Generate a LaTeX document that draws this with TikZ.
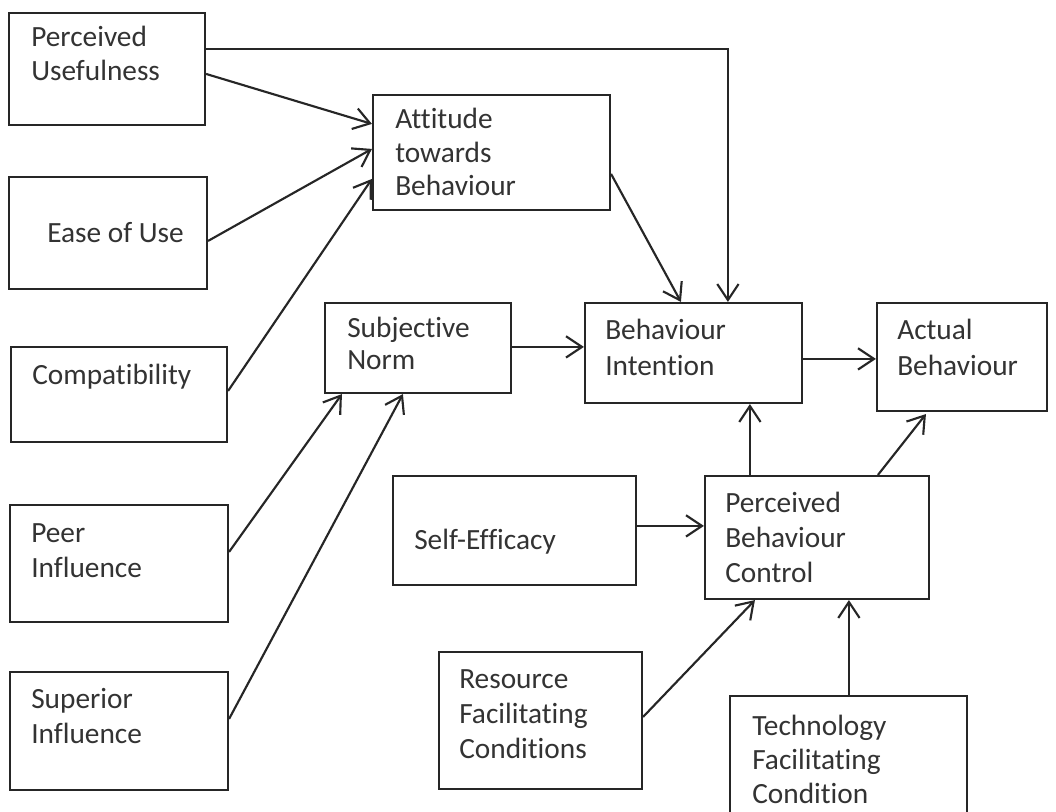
\documentclass[tikz,border=0pt]{standalone}
\usepackage{fontspec}
\setmainfont{Carlito}[RawFeature={-liga,-clig,-calt,-dlig}]
\usetikzlibrary{arrows.meta,fit,calc}
\newcommand\tb[1]{\begin{tabular}[t]{@{}l@{}}#1\end{tabular}}
\begin{document}
\begin{tikzpicture}[x=0.75pt,y=-0.75pt,
  box/.style={draw=black!85,line width=1.6pt,inner sep=0pt,rectangle},
  txt/.style={anchor=base west,inner sep=0pt,text=black!80,font=\fontsize{22}{25.5}\selectfont},
  arr/.style={draw=black!85,line width=1.6pt,-{Straight Barb[length=12pt,width=16pt]}}]
\useasboundingbox (0,0) rectangle (1056,812);
\clip (0,0) rectangle (1056,812);
\fill[white] (0,0) rectangle (1056,812);
% boxes
\node[box,fit={(9,13) (205,125)}] (pu) {};
\node[box,fit={(9,177) (207,289)}] (eou) {};
\node[box,fit={(373,95) (610,210)}] (atb) {};
\node[box,fit={(11,347) (227,442)}] (cmp) {};
\node[box,fit={(325,303) (511,393)}] (sn) {};
\node[box,fit={(585,303) (802,403)}] (bi) {};
\node[box,fit={(877,303) (1047,411)}] (ab) {};
\node[box,fit={(393,476) (636,585)}] (se) {};
\node[box,fit={(705,476) (929,599)}] (pbc) {};
\node[box,fit={(10,505) (228,622)}] (peer) {};
\node[box,fit={(10,672) (228,790)}] (sup) {};
\node[box,fit={(439,652) (642,789)}] (rfc) {};
\node[box,fit={(730,696) (967,840)}] (tfc) {};
% texts
\node[txt] (put) at (31,47) {\tb{Perceived\\Usefulness}};
\node[txt,font=\fontsize{22}{24.8}\selectfont] (atbt) at (395,129) {\tb{Attitude\\towards\\Behaviour}};
\node[txt] (eout) at (47,243) {Ease of Use};
\node[txt] (cmpt) at (32,385) {Compatibility};
\node[txt,font=\fontsize{22}{23.5}\selectfont] (snt) at (347,338) {\tb{Subjective\\Norm}};
\node[txt,font=\fontsize{22}{26.3}\selectfont] (bit) at (605,340) {\tb{Behaviour\\Intention}};
\node[txt,font=\fontsize{22}{26.3}\selectfont] (abt) at (897,340) {\tb{Actual\\Behaviour}};
\node[txt] (set) at (414,549) {Self-Efficacy};
\node[txt,font=\fontsize{22}{26.5}\selectfont] (pbct) at (725,512) {\tb{Perceived\\Behaviour\\Control}};
\node[txt,font=\fontsize{22}{26.5}\selectfont] (peert) at (31,542) {\tb{Peer\\Influence}};
\node[txt,font=\fontsize{22}{26.3}\selectfont] (supt) at (31,708) {\tb{Superior\\Influence}};
\node[txt,font=\fontsize{22}{26.3}\selectfont] (rfct) at (459,688) {\tb{Resource\\Facilitating\\Conditions}};
\node[txt] (tfct) at (752,735) {\tb{Technology\\Facilitating\\Condition}};
% connectors
\draw[arr] ($(pu.north east)+(0,62)$) -- ($(atb.north west)+(0,30)$);
\draw[arr] ($(eou.north east)+(0,65)$) -- ($(atb.north west)+(0,55)$);
\draw[arr] ($(cmp.north east)+(0,45)$) -- ($(atb.north west)+(0,85)$);
\draw[arr] ($(atb.north east)+(0,80)$) -- ($(bi.north west)+(97,0)$);
\draw[arr] ($(pu.north east)+(0,37)$) -| ($(bi.north west)+(144,0)$);
\draw[arr] ($(sn.north east)+(0,45)$) -- ($(bi.north west)+(0,45)$);
\draw[arr] ($(bi.north east)+(0,57)$) -- ($(ab.north west)+(0,57)$);
\draw[arr] ($(peer.north east)+(0,48)$) -- ($(sn.south west)+(18,0)$);
\draw[arr] ($(sup.north east)+(0,48)$) -- ($(sn.south west)+(79,0)$);
\draw[arr] ($(pbc.north west)+(46,0)$) -- ($(bi.south west)+(166,0)$);
\draw[arr] ($(pbc.north west)+(174,0)$) -- ($(ab.south west)+(50,2)$);
\draw[arr] ($(se.north east)+(0,51)$) -- ($(pbc.north west)+(0,51)$);
\draw[arr] ($(rfc.north east)+(0,66)$) -- ($(pbc.south west)+(51,0)$);
\draw[arr] ($(tfc.north west)+(120,0)$) -- ($(pbc.south west)+(145,0)$);
\end{tikzpicture}
\end{document}
